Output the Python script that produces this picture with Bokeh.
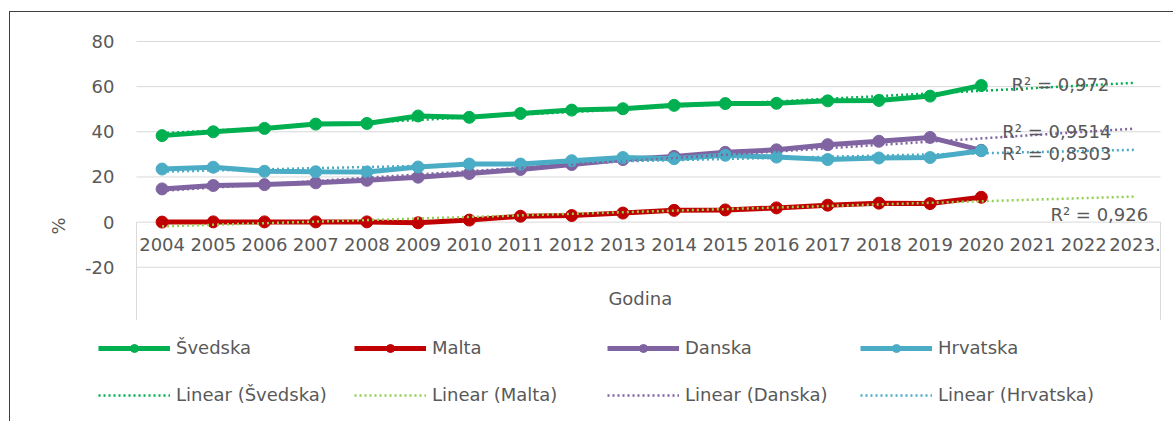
import numpy as np
from bokeh.plotting import figure
from bokeh.models import Legend, LegendItem, Label, FixedTicker, Range1d
from bokeh.core.properties import value
from bokeh.embed import file_html
from bokeh.resources import INLINE

# ---- data ----
years = ["2004", "2005", "2006", "2007", "2008", "2009", "2010", "2011", "2012",
         "2013", "2014", "2015", "2016", "2017", "2018", "2019", "2020",
         "2021", "2022", "2023."]
n_data = 17  # 2004..2020 have values
svedska = [38.3, 40.0, 41.5, 43.4, 43.7, 47.0, 46.4, 48.1, 49.6, 50.2, 51.7,
           52.5, 52.6, 53.7, 53.9, 55.8, 60.5]
malta = [0.0, 0.1, 0.1, 0.1, 0.1, -0.3, 0.9, 2.6, 2.9, 4.0, 5.2, 5.4, 6.3,
         7.5, 8.4, 8.2, 11.0]
danska = [14.7, 16.2, 16.6, 17.4, 18.5, 19.9, 21.5, 23.3, 25.5, 27.7, 29.1,
          30.9, 32.0, 34.3, 35.8, 37.5, 31.8]
hrvatska = [23.5, 24.3, 22.5, 22.3, 22.2, 24.4, 25.7, 25.7, 27.2, 28.6, 28.1,
            29.6, 28.8, 27.7, 28.4, 28.6, 31.6]
series_names = ["Švedska", "Malta", "Danska", "Hrvatska"]
r2_texts = ["R\u00b2 = 0,972", "R\u00b2 = 0,926", "R\u00b2 = 0,9514", "R\u00b2 = 0,8303"]
y_ticks = [-20, 0, 20, 40, 60, 80]
y_tick_labels = {-20: "-20"}

# ---- styles ----
colors = ["#00b050", "#c00000", "#8064a2", "#4bacc6"]
trend_colors = ["#00b050", "#92d050", "#8064a2", "#4bacc6"]
FONT = "DejaVu Sans"
TXT = "#595959"
FS = "18px"
GRID = "#d9d9d9"

p = figure(width=1164, height=410, output_backend="svg", toolbar_location=None,
           x_range=Range1d(-0.898, 20.078), y_range=Range1d(-85.65, 82.2),
           min_border_left=80, min_border_right=10, min_border_top=24,
           min_border_bottom=7)
p.outline_line_color = None
p.styles = {"margin-left": "9px", "margin-top": "11px",
            "border-top": "1px solid #404040", "border-left": "1px solid #404040"}

p.xaxis.visible = False
p.xgrid.visible = False
p.ygrid.visible = False

ya = p.yaxis[0]
ya.ticker = FixedTicker(ticks=y_ticks)
ya.major_label_overrides = y_tick_labels
ya.axis_line_color = None
ya.major_tick_line_color = None
ya.minor_tick_line_color = None
ya.major_label_standoff = -30
ya.major_label_text_font = FONT
ya.major_label_text_font_size = FS
ya.major_label_text_color = TXT
ya.axis_label = "%"
ya.axis_label_text_font = FONT
ya.axis_label_text_font_size = FS
ya.axis_label_text_font_style = "normal"
ya.axis_label_text_color = TXT
ya.axis_label_standoff = 13

xs = np.arange(len(years)) + 0.5
xd = xs[:n_data]
x_lo, x_hi = 0.0, float(len(years))

# horizontal gridlines across the plot area only
p.segment(x0=[x_lo] * len(y_ticks), y0=y_ticks, x1=[x_hi] * len(y_ticks),
          y1=y_ticks, line_color=GRID, line_width=1)
# side lines below the zero line (Excel plot-area edges)
p.segment(x0=[x_lo, x_hi], y0=[0, 0], x1=[x_lo, x_hi], y1=[-43.3, -43.3],
          line_color=GRID, line_width=1)

# category labels along the zero line
p.text(x=xs, y=[0] * len(xs), text=years, text_align="center",
       text_baseline="middle", y_offset=22, text_font=value(FONT),
       text_font_size=FS, text_color=TXT)

all_series = [svedska, malta, danska, hrvatska]
series_r = []
for vals, c in zip(all_series, colors):
    l = p.line(xd, vals, line_color=c, line_width=5)
    s = p.scatter(xd, vals, size=12, fill_color=c, line_color=c)
    series_r.append([l, s])

trend_r = []
for vals, c in zip(all_series, trend_colors):
    k, b = np.polyfit(xd, vals, 1)
    xt = [xs[0], xs[-1]]
    yt = [k * xt[0] + b, k * xt[1] + b]
    t = p.line(xt, yt, line_color=c, line_width=2.5, line_dash="2 3")
    trend_r.append(t)

# R² labels
r2_pos = [(17.09, 60.9), (17.85, 3.4), (16.91, 40.2), (16.91, 30.4)]
for txt, (lx, ly) in zip(r2_texts, r2_pos):
    p.add_layout(Label(x=lx, y=ly, text=txt, text_font=FONT, text_font_size=FS,
                       text_color=TXT, text_baseline="middle"))

p.add_layout(Label(x=9.84, y=-34.0, text="Godina", text_font=FONT,
                   text_font_size=FS, text_color=TXT, text_align="center",
                   text_baseline="middle"))

# legend: four columns, two rows
col_x = [8, 264, 517, 770]
for i, name in enumerate(series_names):
    lg = Legend(items=[LegendItem(label=name, renderers=series_r[i]),
                       LegendItem(label="Linear (%s)" % name, renderers=[trend_r[i]])],
                location=(col_x[i], 10), orientation="vertical",
                glyph_width=72, glyph_height=20, label_height=20,
                spacing=26, padding=0, margin=0, label_standoff=6,
                border_line_alpha=0, background_fill_alpha=0,
                label_text_font=FONT, label_text_font_size=FS,
                label_text_color=TXT)
    p.add_layout(lg)

open("out.html", "w").write(file_html(p, INLINE))
